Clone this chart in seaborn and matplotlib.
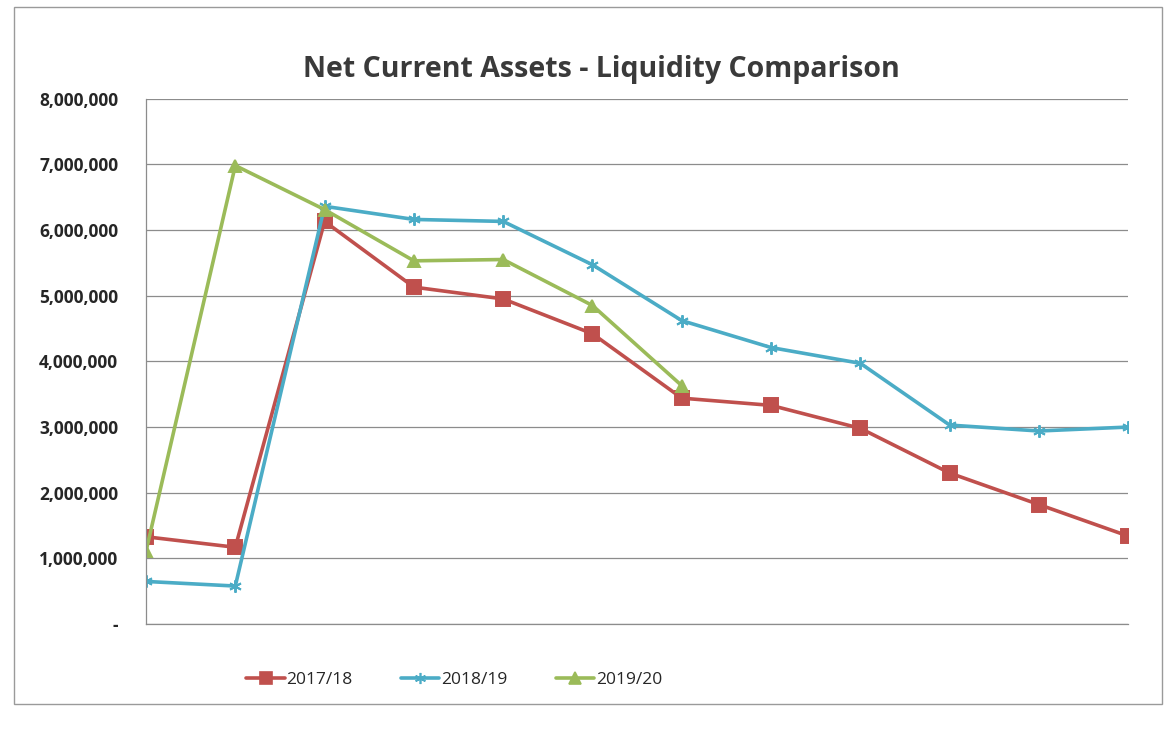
import matplotlib
matplotlib.use("Agg")
import matplotlib.pyplot as plt
from matplotlib.ticker import FuncFormatter, MultipleLocator
from matplotlib.lines import Line2D
from matplotlib.patches import Rectangle
import seaborn as sns

# data (12 periods, no category labels shown)
periods = list(range(12))
assets_2017_18 = [1330000, 1170000, 6130000, 5130000, 4950000, 4420000,
                  3440000, 3330000, 2980000, 2300000, 1820000, 1340000]
assets_2018_19 = [650000, 580000, 6360000, 6160000, 6130000, 5470000,
                  4620000, 4210000, 3970000, 3030000, 2940000, 3000000]
assets_2019_20 = [1110000, 6980000, 6310000, 5530000, 5550000, 4850000, 3630000]

series_labels = ["2017/18", "2018/19", "2019/20"]
colors = ["#C0504D", "#4BACC6", "#9BBB59"]
markers = ["s", (6, 2, 0), "^"]

sns.set_style("white")
plt.rcParams["font.family"] = ["Open Sans", "DejaVu Sans"]

fig = plt.figure(figsize=(11.68, 7.3), dpi=100)
ax = fig.add_axes([0.125, 0.145, 0.841, 0.72])

# chart border
fig.patches.append(Rectangle((0.012, 0.035), 0.983, 0.955, transform=fig.transFigure,
                             fill=False, edgecolor="#9a9a9a", linewidth=1.0))

all_series = [assets_2017_18, assets_2018_19, assets_2019_20]
for vals, lab, col, mk in zip(all_series, series_labels, colors, markers):
    sns.lineplot(x=periods[:len(vals)], y=vals, ax=ax, color=col, linewidth=2.6,
                 marker=mk, markersize=10 if mk == "s" else 9,
                 markeredgecolor=col, markerfacecolor=col, markeredgewidth=1.4,
                 label=lab, legend=False)

ax.set_xlim(0, 11)
ax.set_ylim(0, 8000000)
ax.xaxis.set_major_locator(MultipleLocator(1))
ax.yaxis.set_major_locator(MultipleLocator(1000000))
ax.set_xticklabels([])
ax.yaxis.set_major_formatter(FuncFormatter(lambda v, p: "-" if v == 0 else f"{v:,.0f}"))
ax.grid(axis="y", color="#8c8c8c", linewidth=0.9)
ax.set_axisbelow(True)
for s in ["top", "right"]:
    ax.spines[s].set_visible(False)
for s in ["left", "bottom"]:
    ax.spines[s].set_color("#8c8c8c")
    ax.spines[s].set_linewidth(0.9)
ax.tick_params(axis="both", direction="out", length=5, color="#8c8c8c", width=0.9)
ax.tick_params(axis="y", labelsize=12.5, pad=15)
for t in ax.get_yticklabels():
    t.set_fontweight("bold")
    t.set_color("#262626")

fig.text(0.515, 0.905, "Net Current Assets - Liquidity Comparison", ha="center",
         va="center", fontsize=20.5, fontweight="bold", color="#3a3a3a")

handles = [Line2D([0], [0], color=c, linewidth=2.6, marker=m, markersize=8,
                  markerfacecolor=c, markeredgecolor=c, markeredgewidth=1.2)
           for c, m in zip(colors, markers)]
fig.legend(handles, series_labels, loc="center", bbox_to_anchor=(0.389, 0.068), ncol=3,
           frameon=False, fontsize=12.5, handlelength=2.2, handletextpad=0.1,
           columnspacing=2.8, labelcolor="#262626")

fig.savefig("out.png", dpi=100)
